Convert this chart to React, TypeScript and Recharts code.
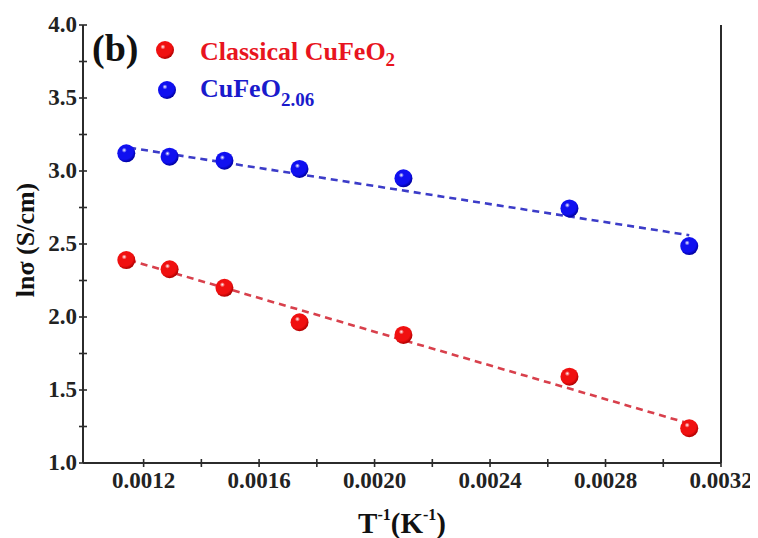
import React from 'react';
import { ComposedChart, Scatter, XAxis, YAxis, Legend } from 'recharts';

// ---- data ----
const invT = [0.00114, 0.00129, 0.00148, 0.00174, 0.0021, 0.002675, 0.00309];
const classical = [2.39, 2.327, 2.2, 1.964, 1.877, 1.591, 1.238];
const rich = [3.121, 3.098, 3.071, 3.014, 2.95, 2.744, 2.486];
const fitX = [0.00115, 0.00309];
const classicalFit = [2.39, 1.27];
const richFit = [3.16, 2.56];

const xTicks = [0.0012, 0.0014, 0.0016, 0.0018, 0.002, 0.0022, 0.0024, 0.0026, 0.0028, 0.003, 0.0032];
const xTickLabels = ['0.0012', '0.0016', '0.0020', '0.0024', '0.0028', '0.0032'];
const yTicks = [1, 1.25, 1.5, 1.75, 2, 2.25, 2.5, 2.75, 3, 3.25, 3.5, 3.75, 4];
const yTickLabels = ['1.0', '1.5', '2.0', '2.5', '3.0', '3.5', '4.0'];

const classicalData = invT.map((x, i) => ({ x, y: classical[i] }));
const richData = invT.map((x, i) => ({ x, y: rich[i] }));
const classicalFitData = fitX.map((x, i) => ({ x, y: classicalFit[i] }));
const richFitData = fitX.map((x, i) => ({ x, y: richFit[i] }));

const FONT = '"Liberation Serif", "Times New Roman", serif';
const SERIF: React.CSSProperties = { fontFamily: FONT, fontWeight: 'bold' };
const AXIS = '#2b2b2b';
const RED = '#f01010';
const RED_DARK = '#b00000';
const BLUE = '#1010f0';
const BLUE_DARK = '#0000a0';

const findLabel = (labels: string[], v: number) =>
  labels.find((l) => Math.abs(parseFloat(l) - v) < 1e-7);

const XTick = (props: any) => {
  const { x, y, payload } = props;
  const label = findLabel(xTickLabels, payload.value);
  return (
    <g>
      <line x1={x} x2={x} y1={y - 4} y2={y + 4} stroke={AXIS} strokeWidth={1.6} />
      {label && (
        <text x={x} y={y + 25} textAnchor="middle" style={{ ...SERIF, fontSize: 23 }} fill="#222">
          {label}
        </text>
      )}
    </g>
  );
};

const makeYTick = (side: 'left' | 'right') => (props: any) => {
  const { x, y, payload } = props;
  const label = findLabel(yTickLabels, payload.value);
  return (
    <g>
      <line x1={x - 4} x2={x + 4} y1={y} y2={y} stroke={AXIS} strokeWidth={1.6} />
      {label && (
        <text
          x={side === 'left' ? x - 6 : x + 3}
          y={y + 7}
          textAnchor={side === 'left' ? 'end' : 'start'}
          style={{ ...SERIF, fontSize: 23 }}
          fill="#222"
        >
          {label}
        </text>
      )}
    </g>
  );
};

const Ball = (cx: number, cy: number, color: string, dark: string, id: string, r = 9) => (
  <g>
    <defs>
      <radialGradient id={id} cx="40%" cy="36%" r="64%" fx="38%" fy="32%">
        <stop offset="0%" stopColor="#ffffff" />
        <stop offset="22%" stopColor={color} />
        <stop offset="75%" stopColor={color} />
        <stop offset="100%" stopColor={dark} />
      </radialGradient>
    </defs>
    <circle cx={cx} cy={cy} r={r} fill={`url(#${id})`} />
  </g>
);

const RedShape = (p: any) => Ball(p.cx, p.cy, RED, RED_DARK, 'gRed');
const BlueShape = (p: any) => Ball(p.cx, p.cy, BLUE, BLUE_DARK, 'gBlue');
const NoShape = () => <g />;

const LegendContent = () => (
  <svg width={750} height={130} style={{ display: 'block' }}>
    <text x={84} y={53} style={{ ...SERIF, fontSize: 38 }} fill="#111">
      (b)
    </text>
    {Ball(157, 42, RED, RED_DARK, 'gRedL')}
    <text x={192} y={52} style={{ ...SERIF, fontSize: 26 }} fill="#e8141e">
      Classical CuFeO
      <tspan style={{ fontSize: 19 }} dy={6}>2</tspan>
    </text>
    {Ball(159, 82, BLUE, BLUE_DARK, 'gBlueL')}
    <text x={192} y={89} style={{ ...SERIF, fontSize: 26 }} fill="#1a1acc">
      CuFeO
      <tspan style={{ fontSize: 19 }} dy={9}>2.06</tspan>
    </text>
  </svg>
);

const YLabel = () => (
  <text
    x={17}
    y={232}
    transform="rotate(-90, 17, 232)"
    textAnchor="middle"
    dominantBaseline="central"
    style={{ ...SERIF, fontSize: 26 }}
    fill="#111"
  >
    lnσ (S/cm)
  </text>
);

const XLabel = () => (
  <text x={394} y={525} textAnchor="middle" style={{ ...SERIF, fontSize: 29 }} fill="#111">
    T<tspan style={{ fontSize: 16 }} dy={-13}>-1</tspan>
    <tspan style={{ fontSize: 29 }} dy={13}>(K</tspan>
    <tspan style={{ fontSize: 16 }} dy={-13}>-1</tspan>
    <tspan style={{ fontSize: 29 }} dy={13}>)</tspan>
  </text>
);

export default function App() {
  return (
    <div style={{ position: 'relative', width: 750, height: 530, fontFamily: FONT }}>
      <ComposedChart width={750} height={530} margin={{ top: 17, right: 0, bottom: 0, left: 0 }}>
        <XAxis
          dataKey="x"
          type="number"
          domain={[0.00099, 0.0032]}
          ticks={xTicks}
          interval={0}
          tickSize={0}
          tickMargin={0}
          tickLine={false}
          tick={XTick}
          axisLine={{ stroke: AXIS, strokeWidth: 2 }}
          height={75}
          label={XLabel}
        />
        <XAxis
          xAxisId="top"
          orientation="top"
          type="number"
          domain={[0.00099, 0.0032]}
          tick={false}
          tickLine={false}
          height={0}
          axisLine={{ stroke: AXIS, strokeWidth: 2 }}
        />
        <YAxis
          dataKey="y"
          type="number"
          domain={[1, 4]}
          ticks={yTicks}
          interval={0}
          tickSize={0}
          tickMargin={0}
          tickLine={false}
          tick={makeYTick('left')}
          axisLine={{ stroke: AXIS, strokeWidth: 2 }}
          width={75}
          label={YLabel}
        />
        <YAxis
          yAxisId="right"
          orientation="right"
          type="number"
          domain={[1, 4]}
          ticks={yTicks}
          interval={0}
          tickSize={0}
          tickMargin={0}
          tickLine={false}
          tick={makeYTick('right')}
          axisLine={{ stroke: AXIS, strokeWidth: 2 }}
          width={37}
        />
        <Legend
          layout="horizontal"
          verticalAlign="middle"
          align="center"
          content={LegendContent}
          wrapperStyle={{ position: 'absolute', left: 0, top: 0, width: 750, height: 130, pointerEvents: 'none' }}
        />
        <Scatter
          name="classical-fit"
          data={classicalFitData}
          line={{ stroke: '#d8404c', strokeWidth: 2.6, strokeDasharray: '7 5' }}
          lineType="joint"
          shape={NoShape}
          isAnimationActive={false}
          legendType="none"
        />
        <Scatter
          name="rich-fit"
          data={richFitData}
          line={{ stroke: '#3c3cc8', strokeWidth: 2.6, strokeDasharray: '7 5' }}
          lineType="joint"
          shape={NoShape}
          isAnimationActive={false}
          legendType="none"
        />
        <Scatter name="Classical CuFeO2" data={classicalData} shape={RedShape} isAnimationActive={false} />
        <Scatter name="CuFeO2.06" data={richData} shape={BlueShape} isAnimationActive={false} />
      </ComposedChart>
    </div>
  );
}
